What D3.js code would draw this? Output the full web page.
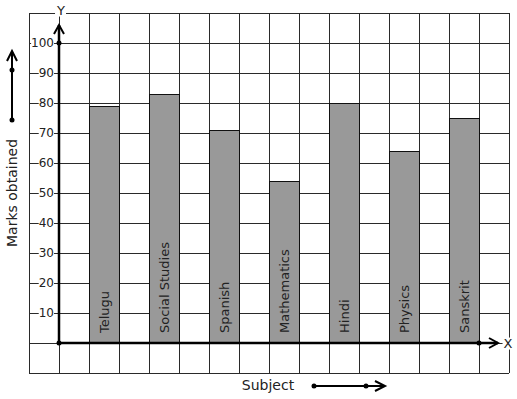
<!DOCTYPE html>
<html><head><meta charset="utf-8">
<script src="https://cdn.jsdelivr.net/npm/d3@7"></script>
<style>body{margin:0;background:#fff}svg{display:block;font-family:"DejaVu Sans",sans-serif}</style>
</head><body><svg id="c" width="517" height="399"></svg>
<script>
const subjects = ["Telugu","Social Studies","Spanish","Mathematics","Hindi","Physics","Sanskrit"];
const marks = [79, 83, 71, 54, 80, 64, 75];
const yTicks = [10,20,30,40,50,60,70,80,90,100];
const xTitle = "Subject";
const yTitle = "Marks obtained";

const svg = d3.select("#c");
const x = d3.scaleLinear().domain([-1, 15]).range([29, 509]);
const y = d3.scaleLinear().domain([-10, 110]).range([373, 13]);
const ink = "#222";

// grid
const g = svg.append("g").attr("stroke", "#2a2a2a").attr("stroke-width", 1).attr("shape-rendering","crispEdges");
g.selectAll("line.v").data(d3.range(-1, 16)).join("line")
  .attr("x1", d => x(d)).attr("x2", d => x(d)).attr("y1", y(110)).attr("y2", y(-10));
g.selectAll("line.h").data(d3.range(-10, 111, 10)).join("line")
  .attr("y1", d => y(d)).attr("y2", d => y(d)).attr("x1", x(-1)).attr("x2", x(15));

// bars
svg.selectAll("rect.bar").data(subjects).join("rect")
  .attr("x", (d, i) => x(1 + 2 * i)).attr("width", x(1) - x(0))
  .attr("y", (d, i) => y(marks[i])).attr("height", (d, i) => y(0) - y(marks[i]))
  .attr("fill", "#999999").attr("stroke", "#111").attr("stroke-width", 1)
  .attr("shape-rendering","crispEdges");

// bar labels
svg.selectAll("text.bl").data(subjects).join("text")
  .attr("transform", (d, i) => `translate(${x(1.5 + 2 * i) + 4.5},${y(0) - 10}) rotate(-90)`)
  .attr("font-size", 13).attr("fill", ink).text(d => d);

// axes
const ax = svg.append("g").attr("stroke", "#000").attr("stroke-width", 2.5).attr("fill", "none");
ax.append("line").attr("x1", x(0)).attr("x2", x(0)).attr("y1", y(0)).attr("y2", 25);
ax.append("line").attr("x1", x(0)).attr("x2", 498).attr("y1", y(0)).attr("y2", y(0));
ax.append("path").attr("stroke-width", 2).attr("d", `M${x(0)-5},34 L${x(0)},25 L${x(0)+5},34`);
ax.append("path").attr("stroke-width", 2).attr("d", `M489,${y(0)-5} L498,${y(0)} L489,${y(0)+5}`);
const dots = [[x(0), y(0)], [x(0), y(100)], [x(14), y(0)]];
svg.selectAll("circle.d").data(dots).join("circle").attr("cx", d => d[0]).attr("cy", d => d[1]).attr("r", 2.5).attr("fill", "#000");

// tick labels with white bg
const tl = svg.append("g");
yTicks.forEach(v => {
  const t = tl.append("text").attr("x", 54).attr("y", y(v)).attr("dy", "0.35em")
    .attr("text-anchor", "end").attr("font-size", 12).attr("fill", ink).text(v);
  const b = t.node().getBBox();
  tl.insert("rect", "text").attr("x", b.x).attr("y", b.y + 1).attr("width", b.width).attr("height", b.height - 2).attr("fill", "#fff");
});
function bgText(tx, ty, s, fs, anchor) {
  const t = svg.append("text").attr("x", tx).attr("y", ty).attr("dy", "0.35em").attr("text-anchor", anchor)
    .attr("font-size", fs).attr("fill", ink).text(s);
  const b = t.node().getBBox();
  svg.insert("rect", () => t.node()).attr("x", b.x - 1).attr("y", b.y + 2).attr("width", b.width + 2).attr("height", b.height - 3).attr("fill", "#fff");
}
bgText(61, 10, "Y", 13, "middle");
bgText(508, y(0), "X", 13, "middle");

// axis titles
svg.append("text").attr("x", 268).attr("y", 390).attr("text-anchor", "middle").attr("font-size", 14).attr("fill", ink).text(xTitle);
svg.append("text").attr("transform", "translate(17,193) rotate(-90)").attr("text-anchor", "middle").attr("font-size", 14).attr("fill", ink).text(yTitle);

// direction arrows
const da = svg.append("g").attr("stroke", "#000").attr("stroke-width", 2).attr("fill", "none");
da.append("line").attr("x1", 314).attr("x2", 384).attr("y1", 386).attr("y2", 386);
da.append("path").attr("d", "M375,381 L385,386 L375,391");
da.append("line").attr("x1", 12).attr("x2", 12).attr("y1", 120).attr("y2", 51);
da.append("path").attr("d", "M7,61 L12,51 L17,61");
[[314, 386], [366, 386], [12, 120], [12, 70]].forEach(p => svg.append("circle").attr("cx", p[0]).attr("cy", p[1]).attr("r", 2.5).attr("fill", "#000"));
</script></body></html>
